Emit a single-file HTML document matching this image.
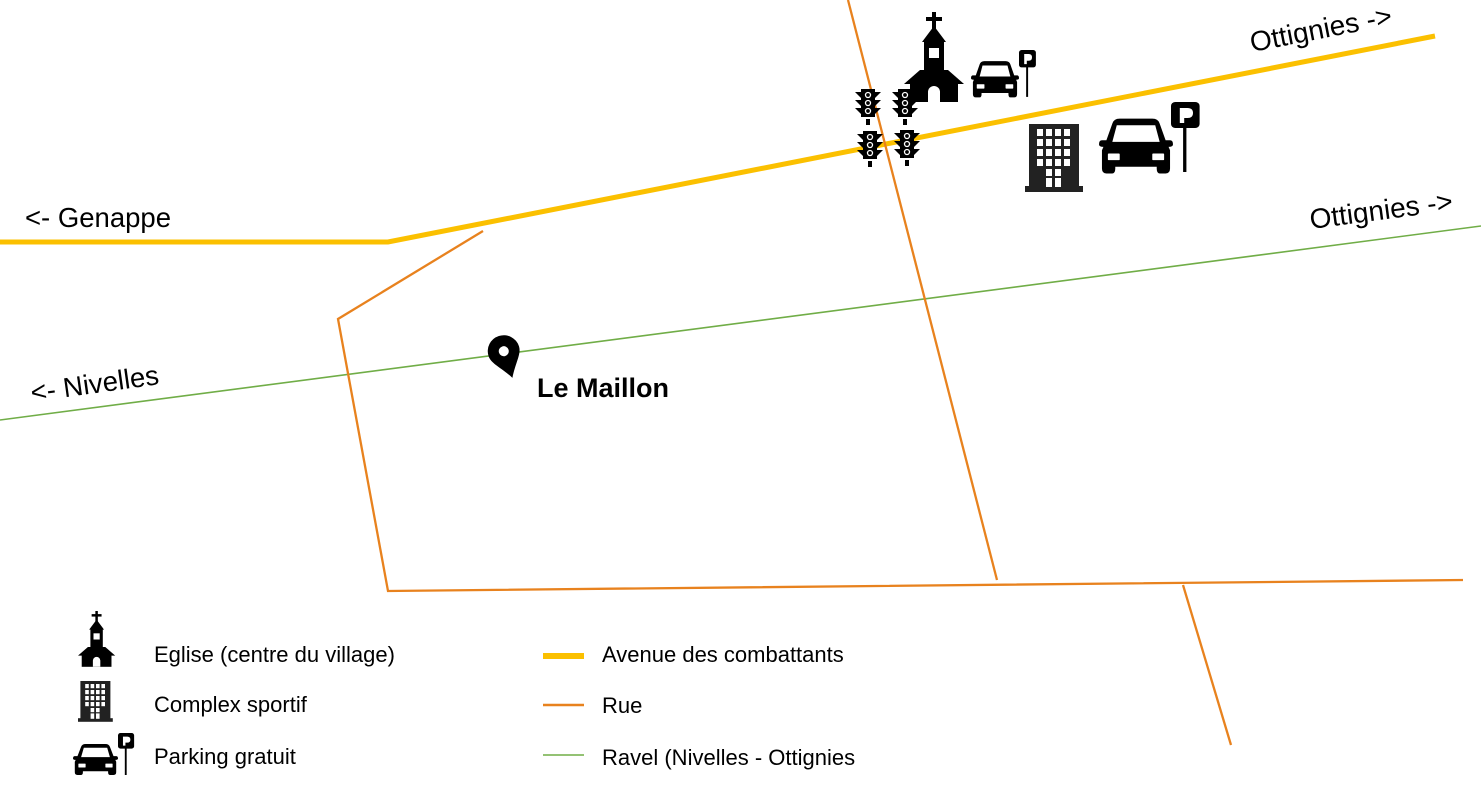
<!DOCTYPE html>
<html><head><meta charset="utf-8"><style>
html,body{margin:0;padding:0;background:#fff;width:1481px;height:799px;overflow:hidden}
svg{display:block}
text{font-family:"Liberation Sans",sans-serif;fill:#000}
</style></head><body>
<svg width="1481" height="799" viewBox="0 0 1481 799" xmlns="http://www.w3.org/2000/svg">
<defs>
<g id="church">
<rect x="28" y="0" width="4" height="18"/><rect x="22" y="5" width="16" height="4"/>
<polygon points="30,14 18,30 42,30"/>
<rect x="20" y="28" width="20" height="34"/>
<rect x="25" y="36" width="10" height="10" fill="#fff"/>
<polygon points="0,72 16,58 44,58 60,72"/>
<rect x="6" y="68" width="48" height="22"/>
<path d="M24 90 V80 a6 6 0 0 1 12 0 V90 Z" fill="#fff"/>
</g>
<g id="car">
<path d="M18 8 Q20 2 28 2 H72 Q80 2 82 8 L90 28 H96 Q100 28 100 33 Q100 36 94 36 L96 40 V62 Q96 68 90 68 H82 Q78 68 78 62 V60 H22 V62 Q22 68 18 68 H10 Q4 68 4 62 V40 L6 36 Q0 36 0 33 Q0 28 4 28 H10 Z"/>
<path d="M24 10 H76 L82 30 H18 Z" fill="#fff"/>
<rect x="12" y="44" width="16" height="8" rx="1" fill="#fff"/>
<rect x="72" y="44" width="16" height="8" rx="1" fill="#fff"/>
</g>
<g id="psign">
<rect x="0" y="0" width="26" height="26" rx="4"/>
<path d="M8 21 V6 H15 Q20 6 20 11 Q20 16 15 16 H12 V21 Z" fill="#fff"/>
<rect x="11" y="24" width="3" height="46"/>
</g>
<g id="building">
<rect x="4" y="0" width="50" height="64" fill="#222"/>
<rect x="0" y="62" width="58" height="6" fill="#222"/>
<g fill="#fff">
<rect x="12" y="5" width="6" height="7"/><rect x="21" y="5" width="6" height="7"/><rect x="30" y="5" width="6" height="7"/><rect x="39" y="5" width="6" height="7"/>
<rect x="12" y="15" width="6" height="7"/><rect x="21" y="15" width="6" height="7"/><rect x="30" y="15" width="6" height="7"/><rect x="39" y="15" width="6" height="7"/>
<rect x="12" y="25" width="6" height="7"/><rect x="21" y="25" width="6" height="7"/><rect x="30" y="25" width="6" height="7"/><rect x="39" y="25" width="6" height="7"/>
<rect x="12" y="35" width="6" height="7"/><rect x="21" y="35" width="6" height="7"/><rect x="30" y="35" width="6" height="7"/><rect x="39" y="35" width="6" height="7"/>
<rect x="21" y="45" width="6" height="7"/><rect x="30" y="45" width="6" height="7"/>
<rect x="21" y="54" width="6" height="9"/><rect x="30" y="54" width="6" height="9"/>
</g>
</g>
<g id="tl">
<polygon points="0,3 6,3 6,9"/><polygon points="0,11 6,11 6,17"/><polygon points="0,19 6,19 6,25"/>
<polygon points="26,3 20,3 20,9"/><polygon points="26,11 20,11 20,17"/><polygon points="26,19 20,19 20,25"/>
<rect x="6" y="0" width="14" height="28"/>
<rect x="11" y="30" width="4" height="6"/>
<circle cx="13" cy="6" r="2.5" fill="none" stroke="#fff" stroke-width="1.3"/>
<circle cx="13" cy="14" r="2.5" fill="none" stroke="#fff" stroke-width="1.3"/>
<circle cx="13" cy="22" r="2.5" fill="none" stroke="#fff" stroke-width="1.3"/>
</g>
</defs>

<polyline points="0,242 388,242 1435,36" fill="none" stroke="#fbc000" stroke-width="5"/>
<line x1="0" y1="420" x2="1481" y2="226" stroke="#70ad47" stroke-width="1.6"/>
<g stroke="#e8821e" stroke-width="2.3" fill="none">
<line x1="848" y1="0" x2="997" y2="580"/>
<polyline points="483,231 338,319 388,591 1463,580"/>
<line x1="1183" y1="585" x2="1231" y2="745"/>
</g>

<use href="#church" x="904" y="12"/>
<use href="#car" transform="translate(971,60) scale(0.48,0.55)"/>
<use href="#psign" transform="translate(1019,50) scale(0.65,0.67)"/>
<use href="#building" x="1025" y="124"/>
<use href="#car" transform="translate(1099,117) scale(0.74,0.83)"/>
<use href="#psign" transform="translate(1171,102) scale(1.1,1.0)"/>
<use href="#tl" x="855" y="89"/>
<use href="#tl" x="892" y="89"/>
<use href="#tl" x="857" y="131"/>
<use href="#tl" x="894" y="130"/>

<g transform="translate(505,355) rotate(-18)">
<path d="M0 24 C-8 10 -16 4 -16 -4 A16 16 0 0 1 16 -4 C16 4 8 10 0 24 Z"/>
<circle cx="0" cy="-4" r="5" fill="#fff"/>
</g>

<text x="25" y="227" font-size="27.5">&lt;- Genappe</text>
<text x="0" y="0" font-size="28" transform="translate(1252,52) rotate(-11)">Ottignies -&gt;</text>
<text x="0" y="0" font-size="28" transform="translate(1311,229) rotate(-7.5)">Ottignies -&gt;</text>
<text x="0" y="0" font-size="27.5" transform="translate(32,402) rotate(-8)">&lt;- Nivelles</text>
<text x="537" y="397" font-size="27" font-weight="bold">Le Maillon</text>

<use href="#church" transform="translate(78,611) scale(0.62)"/>
<use href="#building" transform="translate(78,681) scale(0.6,0.6)"/>
<use href="#car" transform="translate(73,743) scale(0.45,0.47)"/>
<use href="#psign" transform="translate(118,733) scale(0.62,0.6)"/>
<text x="154" y="662" font-size="22">Eglise (centre du village)</text>
<text x="154" y="712" font-size="22">Complex sportif</text>
<text x="154" y="764" font-size="22">Parking gratuit</text>
<line x1="543" y1="656" x2="584" y2="656" stroke="#fbc000" stroke-width="6"/>
<line x1="543" y1="705" x2="584" y2="705" stroke="#e8821e" stroke-width="2.5"/>
<line x1="543" y1="755" x2="584" y2="755" stroke="#70ad47" stroke-width="1.6"/>
<text x="602" y="662" font-size="22">Avenue des combattants</text>
<text x="602" y="713" font-size="22">Rue</text>
<text x="602" y="765" font-size="22">Ravel (Nivelles - Ottignies</text>
</svg>
</body></html>
